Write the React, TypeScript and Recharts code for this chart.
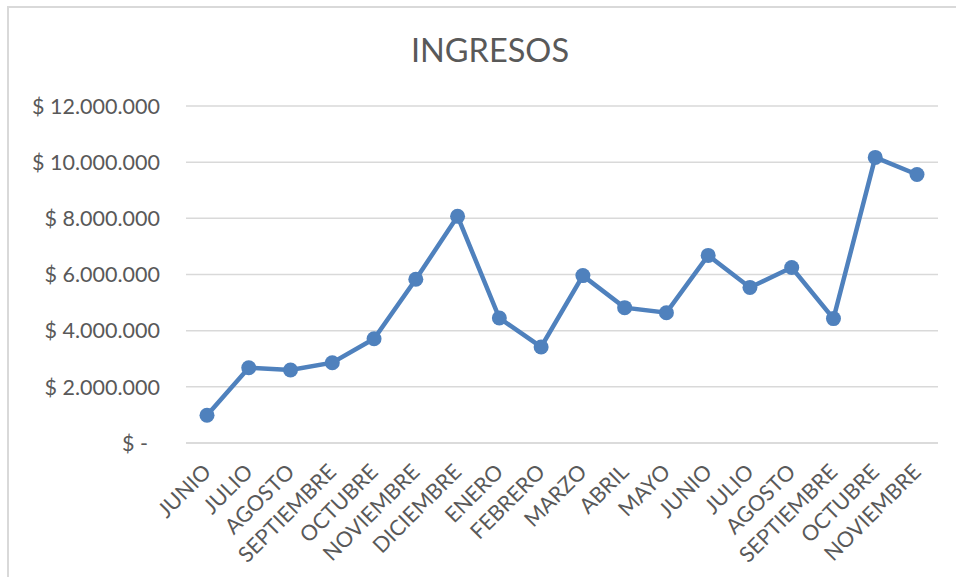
import React from "react";
import { CartesianGrid, Line, LineChart, XAxis, YAxis } from "recharts";

const months = [
  "JUNIO", "JULIO", "AGOSTO", "SEPTIEMBRE", "OCTUBRE", "NOVIEMBRE", "DICIEMBRE",
  "ENERO", "FEBRERO", "MARZO", "ABRIL", "MAYO", "JUNIO", "JULIO", "AGOSTO",
  "SEPTIEMBRE", "OCTUBRE", "NOVIEMBRE",
];

const ingresos = [
  990000, 2680000, 2600000, 2860000, 3710000, 5830000, 8070000, 4450000,
  3420000, 5960000, 4820000, 4640000, 6680000, 5540000, 6250000, 4430000,
  10170000, 9560000,
];

const yTicks = [0, 2000000, 4000000, 6000000, 8000000, 10000000, 12000000];

const data = months.map((m, i) => ({ idx: i, mes: m, valor: ingresos[i] }));

const FONT = "Lato, 'Open Sans', sans-serif";
const TEXT = "#595959";

const formatMoney = (v: number) =>
  v === 0 ? "$ -" : "$ " + String(v).replace(/\B(?=(\d{3})+(?!\d))/g, ".");

const YTick = (props: any) => {
  const { x, y, payload } = props;
  const isZero = payload.value === 0;
  return (
    <text
      x={x - (isZero ? 12 : 0)}
      y={y}
      dy="0.36em"
      textAnchor="end"
      fill={TEXT}
      fontSize={21.5}
      fontFamily={FONT}
    >
      {formatMoney(payload.value)}
    </text>
  );
};

const XTick = (props: any) => {
  const { x, y, payload } = props;
  const label = months[payload.value];
  const ty = y + 25;
  return (
    <text
      x={x}
      y={ty}
      dy="0.35em"
      textAnchor="end"
      transform={`rotate(-45, ${x}, ${ty})`}
      fill={TEXT}
      fontSize={21.5}
      fontFamily={FONT}
    >
      {label}
    </text>
  );
};

export default function App() {
  return (
    <div
      style={{
        position: "fixed",
        left: 0,
        top: 0,
        width: 956,
        height: 577,
        background: "#fff",
        overflow: "hidden",
      }}
    >
      <div
        style={{
          position: "absolute",
          left: 7,
          top: 6,
          width: 1000,
          height: 700,
          border: "2px solid #d9d9d9",
        }}
      />
      <div
        style={{
          position: "absolute",
          left: 0,
          width: 980,
          top: 30,
          textAlign: "center",
          fontFamily: FONT,
          fontSize: 32.5,
          color: TEXT,
          lineHeight: "40px",
        }}
      >
        INGRESOS
      </div>
      <div style={{ position: "absolute", left: 0, top: 0 }}>
        <LineChart
          width={956}
          height={577}
          data={data}
          margin={{ top: 106, right: 18, bottom: 0, left: 0 }}
        >
          <CartesianGrid
            vertical={false}
            stroke="#d9d9d9"
            strokeWidth={1.5}
          />
          <XAxis
            dataKey="idx"
            type="category"
            height={134}
            padding={{ left: 21, right: 21 }}
            axisLine={{ stroke: "#d9d9d9", strokeWidth: 1.5 }}
            tickLine={false}
            tickSize={0}
            tickMargin={0}
            interval={0}
            tick={<XTick />}
          />
          <YAxis
            width={186}
            domain={[0, 12000000]}
            ticks={yTicks}
            axisLine={false}
            tickLine={false}
            tickSize={0}
            tickMargin={26}
            tick={<YTick />}
          />
          <Line
            type="linear"
            dataKey="valor"
            stroke="#4f81bd"
            strokeWidth={4.5}
            dot={{ r: 7.5, fill: "#4f81bd", stroke: "#4f81bd", strokeWidth: 0 }}
            activeDot={false}
            isAnimationActive={false}
          />
        </LineChart>
      </div>
    </div>
  );
}
